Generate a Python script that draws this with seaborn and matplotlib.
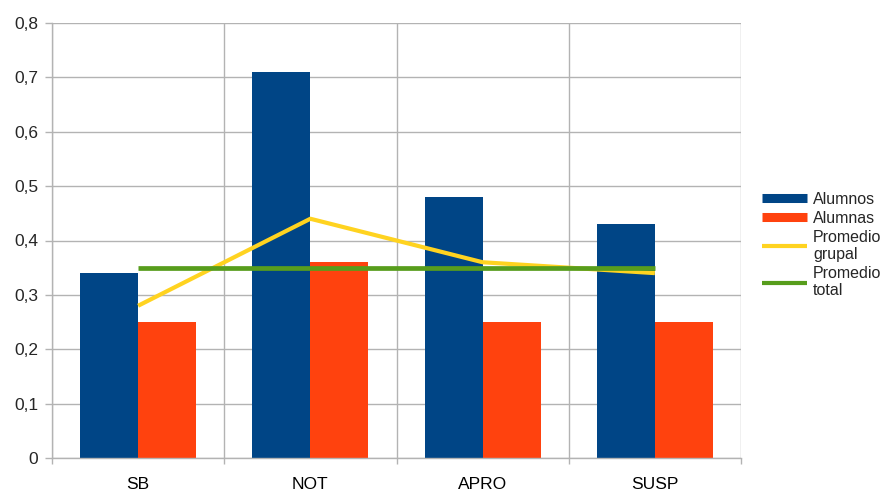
import numpy as np
import pandas as pd
import matplotlib
matplotlib.use("Agg")
import matplotlib.pyplot as plt
from matplotlib.lines import Line2D
from matplotlib.ticker import FuncFormatter, FixedLocator
import seaborn as sns

categories = ["SB", "NOT", "APRO", "SUSP"]
alumnos = [0.34, 0.71, 0.48, 0.43]
alumnas = [0.25, 0.36, 0.25, 0.25]
promedio_grupal = [0.28, 0.44, 0.36, 0.34]
promedio_total = [0.35, 0.35, 0.35, 0.35]
series_names = ["Alumnos", "Alumnas", "Promedio\ngrupal", "Promedio\ntotal"]
y_ticks = [0.0, 0.1, 0.2, 0.3, 0.4, 0.5, 0.6, 0.7, 0.8]

colors = ["#004586", "#ff420e", "#ffd320", "#579d1c"]
grid_color = "#b3b3b3"

sns.set_theme(style="white")
plt.rcParams["font.family"] = ["Liberation Sans", "DejaVu Sans"]

bars = pd.DataFrame({
    "cat": categories * 2,
    "value": alumnos + alumnas,
    "serie": [series_names[0]] * len(categories) + [series_names[1]] * len(categories),
})
pos = np.arange(len(categories))
lines = pd.DataFrame({"x": pos, "grupal": promedio_grupal, "total": promedio_total})

fig = plt.figure(figsize=(8.81, 4.93), dpi=100)
ax = fig.add_axes([52 / 881, 35 / 493, (741 - 52) / 881, (458 - 23) / 493])

sns.barplot(data=bars, x="cat", y="value", hue="serie", order=categories,
            palette=colors[:2], width=0.674, dodge=True, gap=0,
            saturation=1, linewidth=0, legend=False, ax=ax, zorder=2)
sns.lineplot(data=lines, x="x", y="grupal", color=colors[2], linewidth=3.0,
             solid_capstyle="butt", ax=ax, zorder=3, legend=False)
sns.lineplot(data=lines, x="x", y="total", color=colors[3], linewidth=3.4,
             solid_capstyle="butt", ax=ax, zorder=4, legend=False)

ax.set_xlim(-0.5, len(categories) - 0.5)
ax.set_ylim(0, 0.8)
ax.set_xlabel("")
ax.set_ylabel("")

# category boundaries carry the vertical grid and the small ticks
ax.set_xticks(pos)
ax.set_xticklabels(categories)
ax.xaxis.set_minor_locator(FixedLocator(np.arange(-0.5, len(categories), 1.0)))
ax.tick_params(axis="x", which="major", length=0, pad=13.5, labelsize=12.5, colors="black")
ax.tick_params(axis="x", which="minor", length=4.5, width=1, color=grid_color, bottom=True)
ax.set_yticks(y_ticks)
ax.yaxis.set_major_formatter(FuncFormatter(
    lambda v, _: "0" if abs(v) < 1e-9 else f"{v:.1f}".replace(".", ",")))
ax.tick_params(axis="y", which="major", length=5, width=1, color=grid_color,
               pad=5, labelsize=12.5, left=True)

ax.grid(axis="y", which="major", color=grid_color, linewidth=1, zorder=0)
ax.grid(axis="x", which="minor", color=grid_color, linewidth=1, zorder=0)
ax.grid(axis="x", which="major", visible=False)
ax.set_axisbelow(True)

for side in ["top", "right"]:
    ax.spines[side].set_visible(False)
for side in ["left", "bottom"]:
    ax.spines[side].set_color(grid_color)
    ax.spines[side].set_linewidth(1)

handles = [
    Line2D([0], [0], color=colors[0], linewidth=6.5, solid_capstyle="butt"),
    Line2D([0], [0], color=colors[1], linewidth=6.5, solid_capstyle="butt"),
    Line2D([0], [0], color=colors[2], linewidth=3.0, solid_capstyle="butt"),
    Line2D([0], [0], color=colors[3], linewidth=3.0, solid_capstyle="butt"),
]
fig.legend(handles, series_names, loc="center left",
           bbox_to_anchor=(762 / 881, 1 - 245 / 493), frameon=False,
           fontsize=11.5, handlelength=2.8, handletextpad=0.4,
           borderpad=0, borderaxespad=0, labelspacing=0.25)

fig.savefig("out.png", dpi=100)
